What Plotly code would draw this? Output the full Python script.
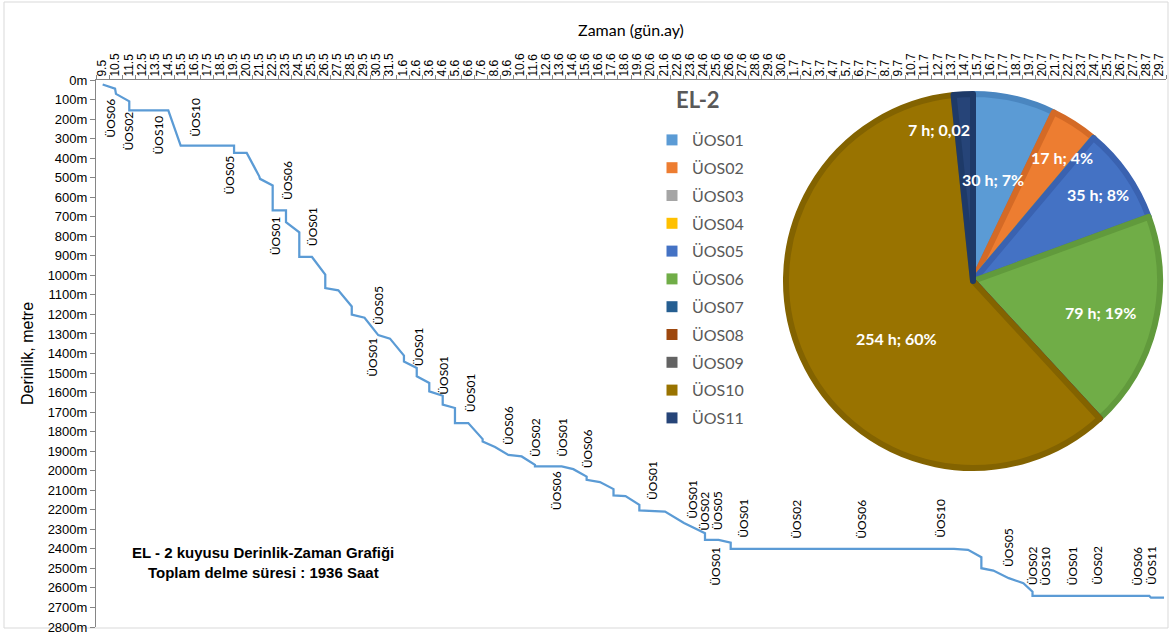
import plotly.graph_objects as go

# ---------------- data ----------------
day_labels = ["9.5","10.5","11.5","12.5","13.5","14.5","15.5","16.5","17.5","18.5","19.5","20.5",
              "21.5","22.5","23.5","24.5","25.5","26.5","27.5","28.5","29.5","30.5","31.5",
              "1.6","2.6","3.6","4.6","5.6","6.6","7.6","8.6","9.6","10.6","11.6","12.6","13.6",
              "14.6","15.6","16.6","17.6","18.6","19.6","20.6","21.6","22.6","23.6","24.6","25.6",
              "26.6","27.6","28.6","29.6","30.6",
              "1.7","2.7","3.7","4.7","5.7","6.7","7.7","8.7","9.7","10.7","11.7","12.7","13.7",
              "14.7","15.7","16.7","17.7","18.7","19.7","20.7","21.7","22.7","23.7","24.7","25.7",
              "26.7","27.7","28.7","29.7"]

# elapsed time (days from start of 9.5) and depth (m)
time_days = [0.51, 1.46, 1.53, 2.55, 2.55, 5.54, 6.49, 10.58, 10.58, 11.55, 12.51, 12.57, 13.54,
             13.54, 14.56, 14.56, 15.58, 15.58, 16.55, 17.57, 17.57, 18.57, 19.60, 19.60, 20.58,
             21.63, 22.53, 23.60, 23.60, 24.58, 24.58, 25.54, 25.54, 26.57, 26.57, 27.51, 27.51,
             28.53, 29.63, 29.63, 30.58, 31.60, 32.62, 33.64, 33.64, 35.69, 36.58, 37.60, 37.60,
             38.62, 39.66, 39.66, 40.58, 41.64, 41.64, 43.61, 45.06, 46.17, 46.67, 46.67, 47.71,
             48.64, 48.64, 65.75, 66.83, 67.85, 67.85, 68.77, 69.95, 71.07, 71.77, 71.77, 80.72,
             80.85, 81.85]
depth_m = [23, 44, 71, 109, 155, 155, 336, 336, 373, 373, 493, 506, 540,
           667, 667, 728, 780, 906, 906, 996, 1065, 1077, 1159, 1201, 1217,
           1306, 1324, 1411, 1441, 1474, 1517, 1551, 1594, 1616, 1662, 1679, 1756,
           1756, 1838, 1850, 1879, 1919, 1927, 1970, 1978, 1978, 1992, 2030, 2047,
           2058, 2094, 2126, 2130, 2175, 2203, 2209, 2268, 2303, 2320, 2354, 2354,
           2368, 2400, 2400, 2405, 2443, 2499, 2511, 2550, 2576, 2619, 2641, 2641,
           2650, 2650]

# operation labels along the curve
op_text = ["ÜOS06","ÜOS02","ÜOS10","ÜOS10","ÜOS05","ÜOS06","ÜOS01","ÜOS01","ÜOS05","ÜOS01",
           "ÜOS01","ÜOS01","ÜOS01","ÜOS06","ÜOS02","ÜOS01","ÜOS06","ÜOS06","ÜOS01","ÜOS01",
           "ÜOS02","ÜOS05","ÜOS01","ÜOS01","ÜOS02","ÜOS06","ÜOS10","ÜOS05","ÜOS02","ÜOS10",
           "ÜOS01","ÜOS02","ÜOS06","ÜOS11"]
op_day = [1.13, 2.48, 4.77, 7.66, 10.27, 14.66, 13.72, 16.65, 21.63, 21.13,
          24.70, 26.67, 28.66, 31.60, 33.64, 35.69, 37.65, 35.31, 42.65, 45.75,
          46.67, 47.63, 47.51, 49.66, 53.72, 58.70, 64.76, 69.95, 71.77, 72.80,
          74.84, 76.79, 79.85, 80.93]
op_depth = [194, 262, 283, 189, 489, 515, 800, 752, 1155, 1418,
            1367, 1514, 1599, 1770, 1828, 1828, 1889, 2101, 2050, 2144,
            2205, 2205, 2487, 2246, 2246, 2246, 2246, 2392, 2487, 2487,
            2487, 2487, 2487, 2487]

# pie: hours per operation
ops = ["ÜOS01","ÜOS02","ÜOS03","ÜOS04","ÜOS05","ÜOS06","ÜOS07","ÜOS08","ÜOS09","ÜOS10","ÜOS11"]
hours = [30, 17, 0, 0, 35, 79, 0, 0, 0, 254, 7]
pie_text = ["30 h; 7%", "17 h; 4%", "", "", "35 h; 8%", "79 h; 19%", "", "", "", "254 h; 60%", "7 h; 0,02"]
op_colors = ["#5B9BD5","#ED7D31","#A5A5A5","#FFC000","#4472C4","#70AD47",
             "#255E91","#9E480E","#636363","#997300","#264478"]
op_edges = ["#4A86C0","#D46A26","#949494","#E0A800","#3A62B0","#619A3C",
            "#1F5080","#8A3E0C","#555555","#836300","#1E3A68"]
# pie label anchor points (paper coords)
pie_lbl_x = [0.8386, 0.9025, None, None, 0.9367, 0.9390, None, None, None, 0.7477, 0.7879]
pie_lbl_y = [0.8172, 0.8580, None, None, 0.7910, 0.5753, None, None, None, 0.5278, 0.9086]

W, H = 1171, 635
L, R, T, B = 96, 5, 80, 8
PW, PH = W - L - R, H - T - B

fig = go.Figure()

fig.add_trace(go.Scatter(x=time_days, y=depth_m, mode="lines",
                         line=dict(color="#5B9BD5", width=2.25),
                         showlegend=False, hoverinfo="skip"))

fig.add_trace(go.Pie(labels=ops, values=hours, sort=False, direction="clockwise", rotation=0,
                     marker=dict(colors=op_colors, line=dict(color=op_edges, width=6)),
                     textinfo="none", showlegend=False, hoverinfo="skip",
                     domain=dict(x=[(786 - L) / PW, (1160 - L) / PW],
                                 y=[(H - B - 468) / PH, (H - B - 94) / PH])))

# legend entries
for name, col in zip(ops, op_colors):
    fig.add_trace(go.Scatter(x=[None], y=[None], mode="markers", name=name,
                             legendgroup=name,
                             marker=dict(symbol="square", size=11, color=col)))

annotations = []
for t, xd, yd in zip(op_text, op_day, op_depth):
    annotations.append(dict(x=xd, y=yd, xref="x", yref="y", text=t, textangle=-90,
                            xanchor="center", yanchor="middle",
                            showarrow=False, font=dict(family="Lato", size=12, color="#000000")))

for t, px, py in zip(pie_text, pie_lbl_x, pie_lbl_y):
    if px is None:
        continue
    annotations.append(dict(x=px, y=py, xref="paper", yref="paper", text=t, showarrow=False,
                            xanchor="center", yanchor="middle",
                            font=dict(family="Lato", size=16, color="#FFFFFF", weight="bold")))

annotations.append(dict(x=(698 - L) / PW, y=(H - B - 99) / PH, xref="paper", yref="paper",
                        text="<b>EL-2</b>", xanchor="center", yanchor="middle",
                        showarrow=False, font=dict(family="Lato", size=22, color="#595959")))
annotations.append(dict(x=(263 - L) / PW, y=(H - B - 552) / PH, xref="paper", yref="paper",
                        text="<b>EL - 2 kuyusu Derinlik-Zaman Grafiği</b>",
                        xanchor="center", yanchor="middle", showarrow=False,
                        font=dict(family="Liberation Sans", size=15, color="#000000")))
annotations.append(dict(x=(263 - L) / PW, y=(H - B - 572) / PH, xref="paper", yref="paper",
                        text="<b>Toplam delme süresi : 1936 Saat</b>",
                        xanchor="center", yanchor="middle", showarrow=False,
                        font=dict(family="Liberation Sans", size=15, color="#000000")))

fig.update_layout(
    width=W, height=H,
    margin=dict(l=L, r=R, t=T, b=B, autoexpand=False),
    paper_bgcolor="white", plot_bgcolor="white",
    font=dict(family="Liberation Sans", size=13, color="#000000"),
    annotations=annotations,
    legend=dict(x=(652 - L) / PW, y=(H - B - 123) / PH, xanchor="left", yanchor="top",
                font=dict(family="Lato", size=16, color="#595959"),
                tracegroupgap=4, bgcolor="rgba(0,0,0,0)", itemclick=False),
    shapes=[dict(type="rect", xref="paper", yref="paper",
                 x0=(4 - L) / PW, x1=(1168 - L) / PW, y0=(H - B - 628) / PH, y1=(H - B - 2) / PH,
                 line=dict(color="#D9D9D9", width=1), fillcolor="rgba(0,0,0,0)", layer="below")],
)

fig.update_xaxes(side="top", range=[0, 82], tickmode="array", automargin=False,
                 tickvals=[i + 0.5 for i in range(len(day_labels))], ticktext=day_labels,
                 tickangle=-90, ticks="", tickfont=dict(family="Liberation Sans", size=12),
                 showgrid=False, zeroline=False, showline=True, linecolor="#868686", linewidth=1,
                 minor=dict(tick0=0, dtick=1, ticks="outside", ticklen=4, tickcolor="#868686"),
                 title=dict(text="Zaman (gün.ay)", font=dict(family="Lato", size=16), standoff=12))

fig.update_yaxes(range=[2800, 0], tickmode="linear", tick0=0, dtick=100, ticksuffix="m",
                 ticks="outside", ticklen=5, tickcolor="#868686", automargin=False,
                 tickfont=dict(family="Liberation Sans", size=13),
                 showgrid=False, zeroline=False, showline=True, linecolor="#868686", linewidth=1,
                 title=dict(text="Derinlik, metre", font=dict(family="Liberation Sans", size=16), standoff=10))

fig.write_html("out.html", config={"displayModeBar": False},
               post_script="document.body.style.margin='0';document.body.style.overflow='hidden';")
